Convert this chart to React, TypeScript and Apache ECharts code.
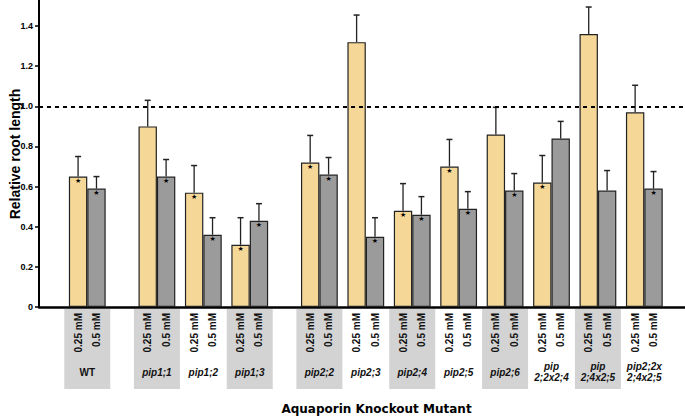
import React, { useEffect, useRef } from 'react';
import * as echarts from 'echarts';

const groups = ['WT', 'pip1;1', 'pip1;2', 'pip1;3', 'pip2;2', 'pip2;3', 'pip2;4', 'pip2;5', 'pip2;6', 'pip\n2;2x2;4', 'pip\n2;4x2;5', 'pip2;2x\n2;4x2;5'];
const groupPositions = [0, 1.5, 2.5, 3.5, 5, 6, 7, 8, 9, 10, 11, 12];
const shaded = [true, true, false, true, true, false, true, false, true, false, true, false];
const concLabels = ['0.25 mM', '0.5 mM'];
const low = [0.65, 0.9, 0.57, 0.31, 0.72, 1.32, 0.48, 0.7, 0.86, 0.62, 1.36, 0.97];
const lowErr = [0.1, 0.13, 0.135, 0.135, 0.135, 0.135, 0.135, 0.135, 0.135, 0.135, 0.135, 0.135];
const high = [0.59, 0.65, 0.36, 0.43, 0.66, 0.35, 0.46, 0.49, 0.58, 0.84, 0.58, 0.59];
const highErr = [0.06, 0.085, 0.085, 0.085, 0.085, 0.095, 0.09, 0.085, 0.085, 0.085, 0.1, 0.085];
const lowStar = [true, false, true, true, true, false, true, true, false, true, false, false];
const highStar = [true, true, true, true, true, true, true, true, true, false, false, true];
const yTicks = [0, 0.2, 0.4, 0.6, 0.8, 1.0, 1.2, 1.4];
const referenceLine = 1.0;

const X_MIN = -1.04;
const X_MAX = 12.876;
const GRID_LEFT = 39;
const W = 685;
const H = 416;
const GRID_BOTTOM = 109;
const BAR_W = 18.4;
const YELLOW = '#F5D898';
const GRAY = '#9B9B9B';
const FONT = '"Liberation Sans", Arial, sans-serif';

export default function App() {
  const ref = useRef<HTMLDivElement>(null);
  useEffect(() => {
    document.body.style.margin = '0';
    if (!ref.current) return;
    const chart = echarts.init(ref.current, undefined, { renderer: 'svg' });
    const unitPx = (W - GRID_LEFT) / (X_MAX - X_MIN);
    const off = BAR_W / 2 / unitPx;

    const barData: any[] = [];
    const errData: any[] = [];
    groupPositions.forEach((p, i) => {
      barData.push({
        value: [p - off, low[i]],
        itemStyle: { color: YELLOW },
        label: { show: lowStar[i] },
      });
      barData.push({
        value: [p + off, high[i]],
        itemStyle: { color: GRAY },
        label: { show: highStar[i] },
      });
      errData.push([p - off, low[i], lowErr[i]]);
      errData.push([p + off, high[i], highErr[i]]);
    });

    chart.setOption({
      animation: false,
      grid: { left: GRID_LEFT, right: 0, top: 0, bottom: GRID_BOTTOM, containLabel: false },
      xAxis: {
        type: 'value',
        min: X_MIN,
        max: X_MAX,
        axisLine: { show: true, onZero: false, lineStyle: { color: '#000', width: 2.5 } },
        axisTick: { show: false },
        axisLabel: { show: false },
        splitLine: { show: false },
      },
      yAxis: {
        type: 'value',
        min: 0,
        max: 1.53,
        axisLine: { show: true, onZero: false, lineStyle: { color: '#000', width: 2 } },
        axisTick: { show: true, customValues: yTicks, length: 4, lineStyle: { color: '#000', width: 1.5 } },
        axisLabel: {
          customValues: yTicks,
          formatter: (v: number) => (v === 0 ? '0' : v.toFixed(1)),
          fontSize: 9,
          fontWeight: 'bold',
          fontFamily: FONT,
          color: '#000',
          margin: 6,
        },
        splitLine: { show: false },
      },
      graphic: [
        {
          type: 'text',
          x: 14.5,
          y: 154,
          rotation: Math.PI / 2,
          style: {
            text: 'Relative root length',
            font: 'bold 14px "Liberation Sans", Arial, sans-serif',
            fill: '#000',
            align: 'center',
            verticalAlign: 'middle',
          },
        },
        {
          type: 'text',
          x: 376.5,
          y: 409,
          style: {
            text: 'Aquaporin Knockout Mutant',
            font: 'bold 12px "DejaVu Sans", Verdana, sans-serif',
            fill: '#000',
            align: 'center',
            verticalAlign: 'middle',
          },
        },
      ],
      series: [
        {
          type: 'custom',
          z: 1,
          silent: true,
          clip: false,
          data: groupPositions.map((p, i) => [p, i]),
          renderItem: (params: any, api: any) => {
            const p = api.value(0);
            const i = api.value(1);
            const c = api.coord([p, 0]);
            const children: any[] = [];
            if (shaded[i]) {
              children.push({
                type: 'rect',
                shape: { x: c[0] - 23, y: c[1] + 2, width: 46, height: 80 },
                style: { fill: '#D3D3D3' },
              });
            }
            [-1, 1].forEach((s, k) => {
              children.push({
                type: 'text',
                x: c[0] + s * BAR_W / 2,
                y: c[1] + 6,
                rotation: Math.PI / 2,
                style: {
                  text: concLabels[k],
                  font: 'bold 10px "Liberation Sans", Arial, sans-serif',
                  fill: '#111',
                  align: 'right',
                  verticalAlign: 'middle',
                },
              });
            });
            children.push({
              type: 'text',
              x: c[0],
              y: c[1] + 65,
              style: {
                text: groups[i],
                font: (i === 0 ? 'bold' : 'italic bold') + ' 10px "Liberation Sans", Arial, sans-serif',
                fill: '#111',
                align: 'center',
                verticalAlign: 'middle',
                lineHeight: 11,
              },
            });
            return { type: 'group', children };
          },
        },
        {
          type: 'bar',
          z: 2,
          barWidth: BAR_W,
          data: barData,
          itemStyle: { borderColor: '#222', borderWidth: 1.2 },
          label: {
            position: 'insideTop',
            distance: 1,
            formatter: '★',
            fontSize: 7,
            fontFamily: '"DejaVu Sans", sans-serif',
            color: '#000',
          },
          markLine: {
            silent: true,
            symbol: ['none', 'none'],
            label: { show: false },
            lineStyle: { color: '#000', width: 2, type: [4, 4] },
            data: [{ yAxis: referenceLine }],
          },
        },
        {
          type: 'custom',
          z: 3,
          silent: true,
          data: errData,
          renderItem: (params: any, api: any) => {
            const x = api.value(0);
            const v = api.value(1);
            const e = api.value(2);
            const p0 = api.coord([x, v]);
            const p1 = api.coord([x, v + e]);
            return {
              type: 'group',
              children: [
                {
                  type: 'line',
                  shape: { x1: p0[0], y1: p0[1], x2: p1[0], y2: p1[1] },
                  style: { stroke: '#222', lineWidth: 1.3 },
                },
                {
                  type: 'line',
                  shape: { x1: p1[0] - 3, y1: p1[1], x2: p1[0] + 3, y2: p1[1] },
                  style: { stroke: '#222', lineWidth: 1.5 },
                },
              ],
            };
          },
        },
      ],
    });
    return () => chart.dispose();
  }, []);
  return <div ref={ref} style={{ width: W, height: H }} />;
}
